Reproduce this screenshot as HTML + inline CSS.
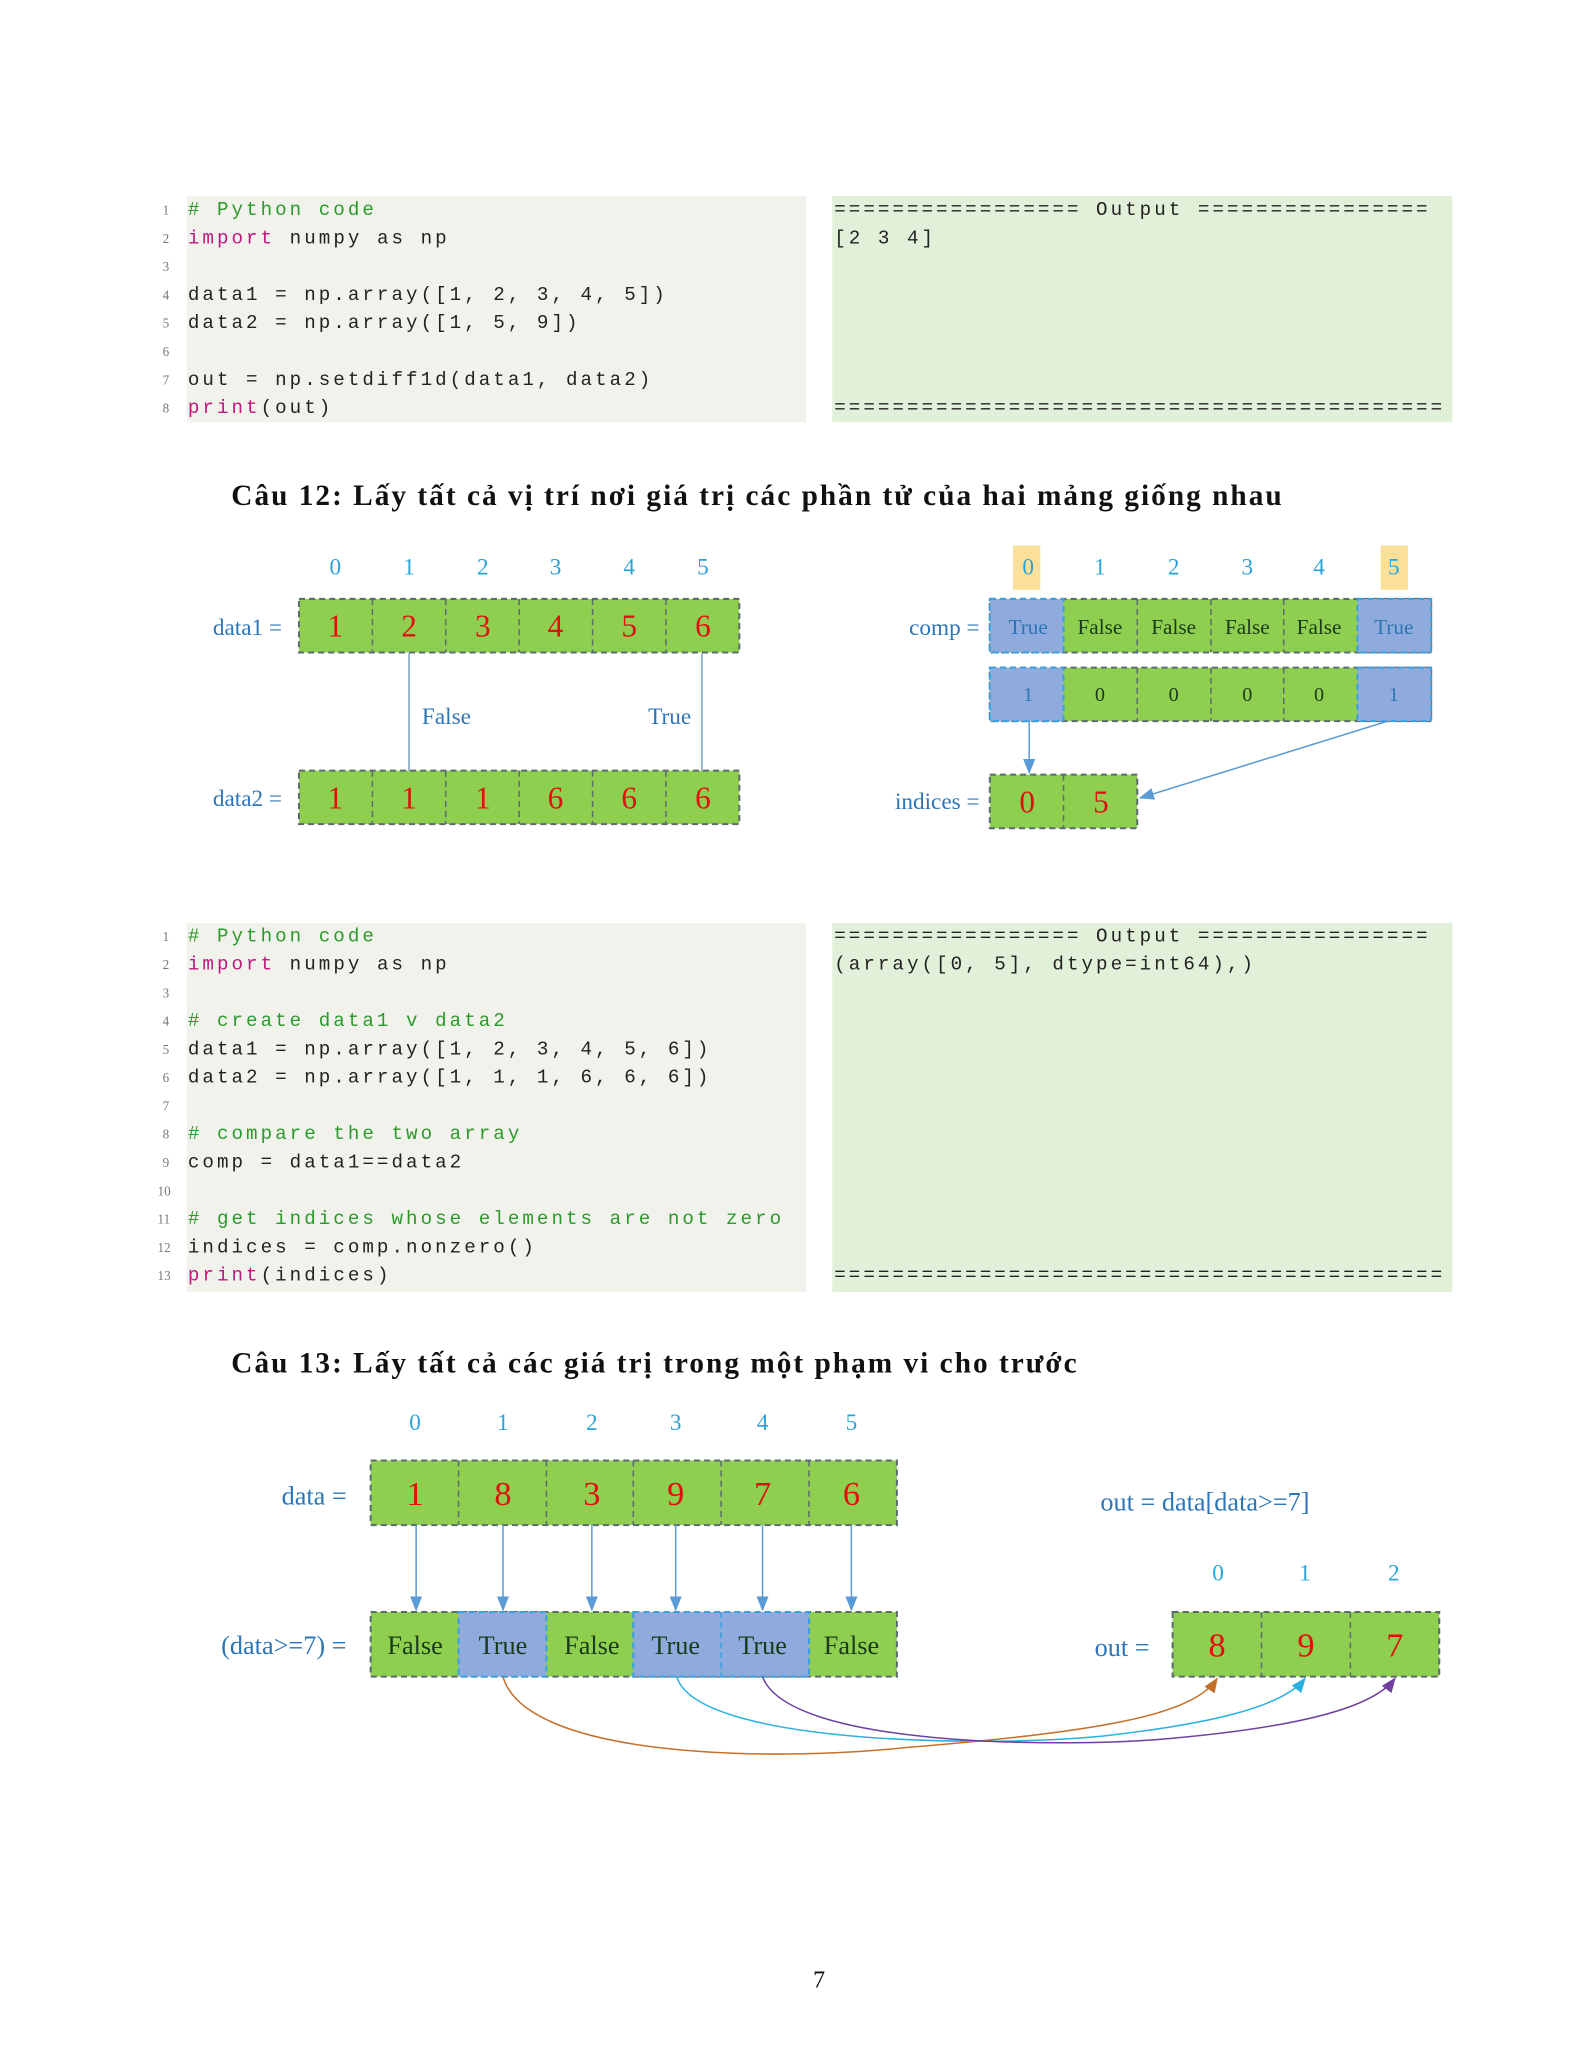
<!DOCTYPE html>
<html><head><meta charset="utf-8"><style>
html,body{margin:0;padding:0;background:#fff}
svg{display:block}
.code{font-family:"Liberation Mono",monospace;font-size:19px;letter-spacing:3px;fill:#222}
.ln{font-family:"Liberation Serif",serif;font-size:13px;fill:#777}
.cm{fill:#2a9a2a}.kw{fill:#c0187f}
.h{font-family:"Liberation Serif",serif;font-weight:bold;font-size:29px;letter-spacing:2px;fill:#111}
.lab{font-family:"Liberation Serif",serif;font-size:23px;fill:#2e75b6}
.idx{font-family:"Liberation Serif",serif;font-size:23px;fill:#2aa3d6}
.num{font-family:"Liberation Serif",serif;font-size:31px;fill:#e01010}
.bt{font-family:"Liberation Serif",serif;font-size:23px;fill:#1a3a1a}
.g{fill:#8fcf4f;stroke:#5b6b70;stroke-width:2;stroke-dasharray:6,4}
.b{fill:#8faadc;stroke:#3aa0e0;stroke-width:2;stroke-dasharray:6,4}
</style></head><body>
<svg width="1583" height="2048" xmlns="http://www.w3.org/2000/svg">
<defs>
<marker id="ab" markerWidth="10" markerHeight="10" refX="9" refY="5" orient="auto"><path d="M0,1 L10,5 L0,9 z" fill="#5b9bd5"/></marker>
<marker id="ao" markerWidth="10" markerHeight="10" refX="9" refY="5" orient="auto"><path d="M0,1 L10,5 L0,9 z" fill="#c5702a"/></marker>
<marker id="ac" markerWidth="10" markerHeight="10" refX="9" refY="5" orient="auto"><path d="M0,1 L10,5 L0,9 z" fill="#2bb0e0"/></marker>
<marker id="ap" markerWidth="10" markerHeight="10" refX="9" refY="5" orient="auto"><path d="M0,1 L10,5 L0,9 z" fill="#7040a0"/></marker>
</defs>
<g transform="scale(1.01)">
<!-- code block 1 -->
<rect x="185" y="194" width="613" height="224" fill="#f2f2ec"/>
<rect x="824" y="194" width="614" height="224" fill="#e2efd9"/>
<g dominant-baseline="central">
<text class="ln" x="161" y="208">1</text><text class="code cm" x="186" y="208"># Python code</text>
<text class="ln" x="161" y="236">2</text><text class="code" x="186" y="236"><tspan class="kw">import</tspan> numpy as np</text>
<text class="ln" x="161" y="264">3</text>
<text class="ln" x="161" y="292">4</text><text class="code" x="186" y="292">data1 = np.array([1, 2, 3, 4, 5])</text>
<text class="ln" x="161" y="320">5</text><text class="code" x="186" y="320">data2 = np.array([1, 5, 9])</text>
<text class="ln" x="161" y="348">6</text>
<text class="ln" x="161" y="376">7</text><text class="code" x="186" y="376">out = np.setdiff1d(data1, data2)</text>
<text class="ln" x="161" y="404">8</text><text class="code" x="186" y="404"><tspan class="kw">print</tspan>(out)</text>
<text class="code" x="826" y="208">================= Output ================</text>
<text class="code" x="826" y="236">[2 3 4]</text>
<text class="code" x="826" y="404">==========================================</text>
</g>

<text class="h" x="229" y="500">Câu 12: Lấy tất cả vị trí nơi giá trị các phần tử của hai mảng giống nhau</text>

<!-- diagram 1 left -->
<g dominant-baseline="central" text-anchor="middle">
<text class="idx" x="332" y="562">0</text><text class="idx" x="405" y="562">1</text><text class="idx" x="478" y="562">2</text><text class="idx" x="550" y="562">3</text><text class="idx" x="623" y="562">4</text><text class="idx" x="696" y="562">5</text>
<rect class="g" x="296" y="593" width="436" height="53"/>
<rect class="g" x="296" y="763" width="436" height="53"/>
<path d="M368.7,593v53M441.3,593v53M514,593v53M586.7,593v53M659.3,593v53M368.7,763v53M441.3,763v53M514,763v53M586.7,763v53M659.3,763v53" stroke="#5b6b70" stroke-width="1.5" stroke-dasharray="6,4"/>
<text class="num" x="332" y="620">1</text><text class="num" x="405" y="620">2</text><text class="num" x="478" y="620">3</text><text class="num" x="550" y="620">4</text><text class="num" x="623" y="620">5</text><text class="num" x="696" y="620">6</text>
<text class="num" x="332" y="790">1</text><text class="num" x="405" y="790">1</text><text class="num" x="478" y="790">1</text><text class="num" x="550" y="790">6</text><text class="num" x="623" y="790">6</text><text class="num" x="696" y="790">6</text>
<text class="lab" x="245" y="622">data1 =</text>
<text class="lab" x="245" y="791">data2 =</text>
<line x1="405" y1="647" x2="405" y2="763" stroke="#7aa0c8" stroke-width="1.5"/>
<line x1="695" y1="647" x2="695" y2="763" stroke="#7aa0c8" stroke-width="1.5"/>
<text class="lab" x="442" y="710">False</text>
<text class="lab" x="663" y="710">True</text>
</g>

<!-- diagram 1 right -->
<g dominant-baseline="central" text-anchor="middle">
<rect x="1003" y="540" width="27" height="44" fill="#fbe09a"/>
<rect x="1367" y="540" width="27" height="44" fill="#fbe09a"/>
<text class="idx" x="1018" y="562">0</text><text class="idx" x="1089" y="562">1</text><text class="idx" x="1162" y="562">2</text><text class="idx" x="1235" y="562">3</text><text class="idx" x="1306" y="562">4</text><text class="idx" x="1380" y="562">5</text>
<rect class="g" x="980" y="593" width="437" height="53"/>
<rect class="b" x="980" y="593" width="73" height="53"/>
<rect class="b" x="1344" y="593" width="73" height="53"/>
<rect class="g" x="980" y="661" width="437" height="53"/>
<rect class="b" x="980" y="661" width="73" height="53"/>
<rect class="b" x="1344" y="661" width="73" height="53"/>
<path d="M1126,593v53M1199,593v53M1271,593v53M1126,661v53M1199,661v53M1271,661v53" stroke="#5b6b70" stroke-width="1.5" stroke-dasharray="6,4"/>
<text class="bt" x="1018" y="621" style="fill:#2e75b6;font-size:21px">True</text>
<text class="bt" x="1089" y="621" style="font-size:21px">False</text><text class="bt" x="1162" y="621" style="font-size:21px">False</text><text class="bt" x="1235" y="621" style="font-size:21px">False</text><text class="bt" x="1306" y="621" style="font-size:21px">False</text>
<text class="bt" x="1380" y="621" style="fill:#2e75b6;font-size:21px">True</text>
<text class="bt" x="1018" y="688" style="fill:#2e75b6;font-size:20px">1</text>
<text class="bt" x="1089" y="688" style="font-size:20px">0</text><text class="bt" x="1162" y="688" style="font-size:20px">0</text><text class="bt" x="1235" y="688" style="font-size:20px">0</text><text class="bt" x="1306" y="688" style="font-size:20px">0</text>
<text class="bt" x="1380" y="688" style="fill:#2e75b6;font-size:20px">1</text>
<text class="lab" x="935" y="622">comp =</text>
<rect class="g" x="980" y="767" width="146" height="53"/>
<path d="M1053,767v53" stroke="#5b6b70" stroke-width="1.5" stroke-dasharray="6,4"/>
<text class="num" x="1017" y="794">0</text><text class="num" x="1090" y="794">5</text>
<text class="lab" x="928" y="794">indices =</text>
<line x1="1019" y1="714" x2="1019" y2="765" stroke="#5b9bd5" stroke-width="1.5" marker-end="url(#ab)"/>
<line x1="1374" y1="714" x2="1129" y2="790" stroke="#5b9bd5" stroke-width="1.5" marker-end="url(#ab)"/>
</g>

<!-- code block 2 -->
<rect x="185" y="914" width="613" height="365" fill="#f2f2ec"/>
<rect x="824" y="914" width="614" height="365" fill="#e2efd9"/>
<g dominant-baseline="central">
<text class="ln" x="161" y="927">1</text><text class="code cm" x="186" y="927"># Python code</text>
<text class="ln" x="161" y="955">2</text><text class="code" x="186" y="955"><tspan class="kw">import</tspan> numpy as np</text>
<text class="ln" x="161" y="983">3</text>
<text class="ln" x="161" y="1011">4</text><text class="code cm" x="186" y="1011"># create data1 v  data2</text>
<text class="ln" x="161" y="1039">5</text><text class="code" x="186" y="1039">data1 = np.array([1, 2, 3, 4, 5, 6])</text>
<text class="ln" x="161" y="1067">6</text><text class="code" x="186" y="1067">data2 = np.array([1, 1, 1, 6, 6, 6])</text>
<text class="ln" x="161" y="1095">7</text>
<text class="ln" x="161" y="1123">8</text><text class="code cm" x="186" y="1123"># compare the two array</text>
<text class="ln" x="161" y="1151">9</text><text class="code" x="186" y="1151">comp = data1==data2</text>
<text class="ln" x="156" y="1179">10</text>
<text class="ln" x="156" y="1207">11</text><text class="code cm" x="186" y="1207"># get indices whose elements are not zero</text>
<text class="ln" x="156" y="1235">12</text><text class="code" x="186" y="1235">indices = comp.nonzero()</text>
<text class="ln" x="156" y="1263">13</text><text class="code" x="186" y="1263"><tspan class="kw">print</tspan>(indices)</text>
<text class="code" x="826" y="927">================= Output ================</text>
<text class="code" x="826" y="955">(array([0, 5], dtype=int64),)</text>
<text class="code" x="826" y="1263">==========================================</text>
</g>

<text class="h" x="229" y="1359">Câu 13: Lấy tất cả các giá trị trong một phạm vi cho trước</text>

<!-- diagram 3 -->
<g dominant-baseline="central" text-anchor="middle">
<text class="idx" x="411" y="1409">0</text><text class="idx" x="498" y="1409">1</text><text class="idx" x="586" y="1409">2</text><text class="idx" x="669" y="1409">3</text><text class="idx" x="755" y="1409">4</text><text class="idx" x="843" y="1409">5</text>
<rect class="g" x="367" y="1446" width="521" height="64"/>
<path d="M454,1446v64M541,1446v64M627,1446v64M714,1446v64M801,1446v64" stroke="#5b6b70" stroke-width="1.5" stroke-dasharray="6,4"/>
<text class="num" x="411" y="1479" style="font-size:34px">1</text><text class="num" x="498" y="1479" style="font-size:34px">8</text><text class="num" x="586" y="1479" style="font-size:34px">3</text><text class="num" x="669" y="1479" style="font-size:34px">9</text><text class="num" x="755" y="1479" style="font-size:34px">7</text><text class="num" x="843" y="1479" style="font-size:34px">6</text>
<text class="lab" x="311" y="1481" style="font-size:26px">data =</text>
<rect class="g" x="367" y="1596" width="521" height="64"/>
<rect class="b" x="454" y="1596" width="87" height="64"/>
<rect class="b" x="627" y="1596" width="174" height="64"/>
<path d="M714,1596v64" stroke="#3aa0e0" stroke-width="1.5" stroke-dasharray="6,4"/>
<text class="bt" x="411" y="1629" style="font-size:26px">False</text><text class="bt" x="498" y="1629" style="font-size:26px">True</text><text class="bt" x="586" y="1629" style="font-size:26px">False</text><text class="bt" x="669" y="1629" style="font-size:26px">True</text><text class="bt" x="755" y="1629" style="font-size:26px">True</text><text class="bt" x="843" y="1629" style="font-size:26px">False</text>
<text class="lab" x="281" y="1629" style="font-size:26px">(data&gt;=7) =</text>
<g stroke="#5b9bd5" stroke-width="1.5" marker-end="url(#ab)">
<line x1="412" y1="1510" x2="412" y2="1594"/><line x1="498" y1="1510" x2="498" y2="1594"/><line x1="586" y1="1510" x2="586" y2="1594"/><line x1="669" y1="1510" x2="669" y2="1594"/><line x1="755" y1="1510" x2="755" y2="1594"/><line x1="843" y1="1510" x2="843" y2="1594"/>
</g>
<text class="lab" x="1193" y="1487" style="font-size:26px">out = data[data&gt;=7]</text>
<text class="idx" x="1206" y="1558">0</text><text class="idx" x="1292" y="1558">1</text><text class="idx" x="1380" y="1558">2</text>
<rect class="g" x="1161" y="1596" width="264" height="64"/>
<path d="M1249,1596v64M1337,1596v64" stroke="#5b6b70" stroke-width="1.5" stroke-dasharray="6,4"/>
<text class="num" x="1205" y="1629" style="font-size:34px">8</text><text class="num" x="1293" y="1629" style="font-size:34px">9</text><text class="num" x="1381" y="1629" style="font-size:34px">7</text>
<text class="lab" x="1111" y="1631" style="font-size:26px">out =</text>
</g>
<path d="M498,1660 C520,1740 760,1745 900,1730 C1080,1715 1180,1700 1205,1662" fill="none" stroke="#c5702a" stroke-width="1.5" marker-end="url(#ao)"/>
<path d="M670,1660 C690,1730 1000,1730 1100,1718 C1200,1706 1270,1690 1292,1662" fill="none" stroke="#2bb0e0" stroke-width="1.5" marker-end="url(#ac)"/>
<path d="M755,1660 C780,1730 1050,1730 1150,1722 C1290,1710 1360,1690 1381,1662" fill="none" stroke="#7040a0" stroke-width="1.5" marker-end="url(#ap)"/>

<text x="811" y="1968" text-anchor="middle" style="font-family:'Liberation Serif',serif;font-size:24px;fill:#111">7</text>
</g>
</svg>
</body></html>
